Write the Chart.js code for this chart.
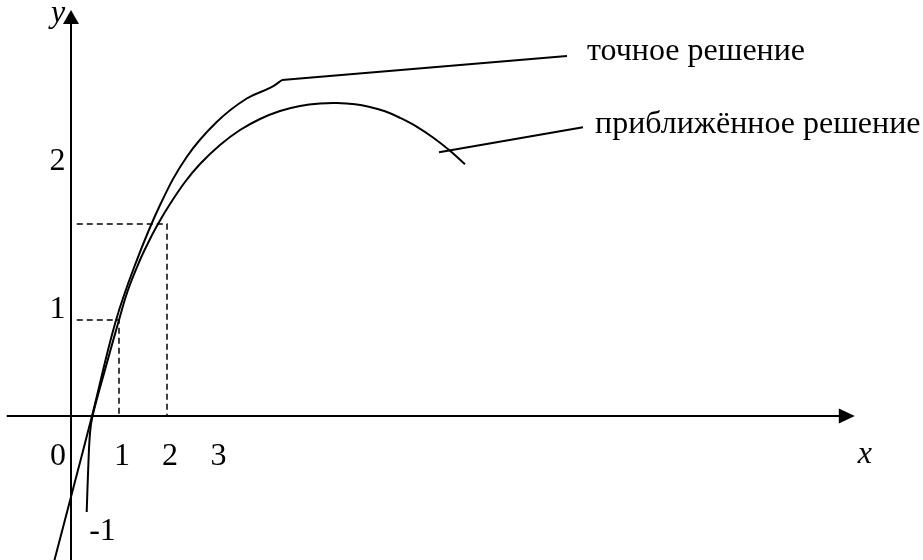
<!DOCTYPE html>
<html>
<head>
<meta charset="utf-8">
<script src="https://cdn.jsdelivr.net/npm/chart.js@4"></script>
<style>
  body { margin: 0; background: #fff; }
  #wrap { width: 923px; height: 560px; }
</style>
</head>
<body>
<div id="wrap"><canvas id="solutionChart"></canvas></div>
<script>
// exact solution (upper curve)
const exactX = [-0.344, 0.048, 0.4375, 0.927, 1.333, 1.865, 2.41, 3.035, 3.66, 4.167, 4.396];
const exactY = [-1.5, -0.75, 0, 0.979, 1.573, 2.208, 2.698, 3.0625, 3.307, 3.422, 3.5];

// approximate solution (lower curve)
const approxX = [0.327, 0.36, 0.396, 0.448, 0.719, 1.0, 1.1875, 1.4375, 1.615, 1.8125, 2.0625, 2.375, 2.6875, 3.104, 3.521, 3.9375, 4.354, 4.771, 5.1875, 5.542, 5.917, 6.229, 6.542, 6.854, 7.208, 7.542, 7.896, 8.208];
const approxY = [-1.0, -0.528, -0.177, 0, 0.5, 1.0, 1.3125, 1.625, 1.8125, 2.0, 2.208, 2.4375, 2.625, 2.823, 2.979, 3.094, 3.177, 3.229, 3.255, 3.26, 3.248, 3.219, 3.175, 3.106, 3.0125, 2.901, 2.7625, 2.622];

// leader lines to the captions
const leaderExactX = [4.396, 10.333];
const leaderExactY = [3.5, 3.75];
const leaderApproxX = [7.667, 10.667];
const leaderApproxY = [2.747, 3.007];

// dashed guides to the points (1,1) and (2,2)
const guide1X = [0.12, 1, 1];
const guide1Y = [1, 1, 0];
const guide2X = [0.12, 2, 2];
const guide2Y = [2, 2, 0];

// tick labels as drawn
const xTickLabels = ["0", "1", "2", "3"];
const xTickPos = [-0.271, 1.0625, 2.0625, 3.073];
const xTickRow = -0.51;
const yTickLabels = ["2", "1"];
const yTickPos = [2.5625, 1.02];
const yTickCol = -0.281;
const extraLabels = ["-1"];
const extraX = [0.656];
const extraY = [-1.29];

const curveNames = ["точное решение", "приближённое решение"];
const curveNameX = [10.75, 10.917];
const curveNameY = [3.708, 2.948];

function toPoints(xs, ys) {
  return xs.map((x, i) => ({ x: x, y: ys[i] }));
}

function lineSet(xs, ys, opts) {
  return Object.assign({
    data: toPoints(xs, ys),
    borderColor: "#000",
    borderWidth: 2,
    pointRadius: 0,
    fill: false,
    tension: 0,
  }, opts);
}

const axesPlugin = {
  id: "axesPlugin",
  beforeDatasetsDraw(chart) {
    const ctx = chart.ctx;
    const xs = chart.scales.x;
    const ys = chart.scales.y;
    const x0 = xs.getPixelForValue(0);
    const y0 = ys.getPixelForValue(0);
    const xEnd = xs.getPixelForValue(16.33);
    const yEnd = ys.getPixelForValue(4.23);
    ctx.save();
    ctx.strokeStyle = "#000";
    ctx.fillStyle = "#000";
    ctx.lineWidth = 2;
    ctx.beginPath();
    ctx.moveTo(xs.getPixelForValue(-1.34), y0);
    ctx.lineTo(xEnd - 14, y0);
    ctx.moveTo(x0, ys.getPixelForValue(-1.5));
    ctx.lineTo(x0, yEnd + 12);
    ctx.stroke();
    // arrow heads
    ctx.beginPath();
    ctx.moveTo(xEnd, y0);
    ctx.lineTo(xEnd - 16, y0 - 7.5);
    ctx.lineTo(xEnd - 16, y0 + 7.5);
    ctx.closePath();
    ctx.fill();
    ctx.beginPath();
    ctx.moveTo(x0, yEnd);
    ctx.lineTo(x0 - 8, yEnd + 14);
    ctx.lineTo(x0 + 8, yEnd + 14);
    ctx.closePath();
    ctx.fill();
    ctx.restore();
  },
  afterDatasetsDraw(chart) {
    const ctx = chart.ctx;
    const xs = chart.scales.x;
    const ys = chart.scales.y;
    ctx.save();
    ctx.fillStyle = "#000";
    ctx.textBaseline = "alphabetic";
    ctx.textAlign = "center";
    ctx.font = "32px 'Liberation Serif', 'Times New Roman', serif";
    xTickLabels.forEach((t, i) => {
      ctx.fillText(t, xs.getPixelForValue(xTickPos[i]), ys.getPixelForValue(xTickRow));
    });
    yTickLabels.forEach((t, i) => {
      ctx.fillText(t, xs.getPixelForValue(yTickCol), ys.getPixelForValue(yTickPos[i]));
    });
    extraLabels.forEach((t, i) => {
      ctx.fillText(t, xs.getPixelForValue(extraX[i]), ys.getPixelForValue(extraY[i]));
    });
    ctx.font = "italic 32px 'Liberation Serif', 'Times New Roman', serif";
    ctx.fillText("x", xs.getPixelForValue(16.54), ys.getPixelForValue(-0.49));
    ctx.fillText("y", xs.getPixelForValue(-0.271), ys.getPixelForValue(4.104));
    ctx.textAlign = "left";
    ctx.font = "32px 'Liberation Serif', 'Times New Roman', serif";
    curveNames.forEach((t, i) => {
      ctx.fillText(t, xs.getPixelForValue(curveNameX[i]), ys.getPixelForValue(curveNameY[i]));
    });
    ctx.restore();
  },
};

const ctx = document.getElementById("solutionChart").getContext("2d");
const chart = new Chart(ctx, {
  type: "line",
  data: {
    datasets: [
      lineSet(exactX, exactY, { label: "точное решение", tension: 0.4 }),
      lineSet(approxX, approxY, { label: "приближённое решение", tension: 0.4 }),
      lineSet(leaderExactX, leaderExactY, { label: "leader1" }),
      lineSet(leaderApproxX, leaderApproxY, { label: "leader2" }),
      lineSet(guide1X, guide1Y, { label: "guide1", borderWidth: 1.5, borderDash: [6, 4] }),
      lineSet(guide2X, guide2Y, { label: "guide2", borderWidth: 1.5, borderDash: [6, 4] }),
    ],
  },
  options: {
    responsive: true,
    maintainAspectRatio: false,
    animation: false,
    layout: { padding: 0 },
    scales: {
      x: { type: "linear", min: -71 / 48, max: 852 / 48, display: false },
      y: { type: "linear", min: -1.5, max: 416 / 96, display: false },
    },
    plugins: {
      legend: { display: false },
      tooltip: { enabled: false },
    },
  },
  plugins: [axesPlugin],
});
</script>
</body>
</html>
